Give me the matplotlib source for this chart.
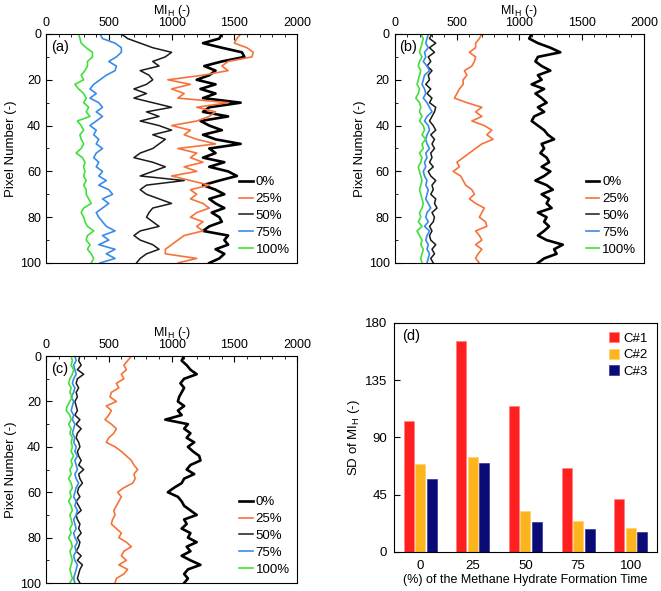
import numpy as np
import matplotlib
matplotlib.use("Agg")
from matplotlib import pyplot as plt

plt.rcParams['font.family'] = ['Liberation Sans', 'DejaVu Sans']
plt.rcParams['font.size'] = 9

# pixel number positions (sampled every 2 pixels)
pixels = list(range(0, 101, 2))
labels = ["0%", "25%", "50%", "75%", "100%"]

# panel (a)
a_0 = [1400, 1380, 1250, 1400, 1560, 1580, 1400, 1260, 1350, 1300, 1200, 1350, 1230, 1350, 1250, 1550, 1300,
       1250, 1450, 1230, 1300, 1400, 1250, 1350, 1550, 1300, 1350, 1250, 1420, 1300, 1450, 1520, 1380, 1250,
       1350, 1420, 1300, 1350, 1420, 1320, 1380, 1400, 1300, 1250, 1450, 1420, 1450, 1350, 1420, 1380, 1300]
a_25 = [1550, 1520, 1500, 1600, 1650, 1640, 1450, 1400, 1450, 1250, 970, 1150, 1000, 1100, 1050, 1450, 1200,
        1350, 1300, 1200, 1000, 1150, 1100, 1200, 1350, 1050, 1200, 1150, 1250, 1100, 1200, 1000, 1150, 1300,
        1150, 1200, 1150, 1250, 1300, 1200, 1150, 1250, 1200, 1250, 1100, 1050, 1000, 950, 950, 1200, 1050]
a_50 = [600, 650, 750, 850, 1000, 950, 850, 900, 750, 820, 850, 800, 700, 800, 700, 850, 1000, 800, 900, 750,
        900, 1000, 850, 950, 900, 850, 750, 700, 850, 950, 850, 750, 1100, 800, 750, 800, 900, 1000, 850, 820,
        800, 850, 900, 750, 700, 750, 850, 900, 800, 750, 720]
a_75 = [430, 450, 550, 600, 600, 560, 500, 560, 550, 480, 430, 380, 350, 400, 350, 420, 450, 400, 450, 400, 350,
        400, 380, 420, 400, 450, 400, 380, 420, 400, 450, 420, 480, 420, 500, 530, 450, 500, 450, 400, 420, 450,
        480, 550, 450, 500, 420, 550, 480, 550, 430]
a_100 = [260, 270, 280, 320, 370, 370, 330, 330, 310, 280, 300, 230, 260, 300, 320, 300, 340, 320, 350, 250, 280,
         300, 270, 280, 300, 280, 240, 290, 310, 300, 310, 300, 320, 300, 320, 320, 340, 360, 300, 280, 300, 310,
         330, 380, 330, 320, 350, 330, 360, 380, 360]

# panel (b)
b_0 = [1100, 1080, 1150, 1250, 1330, 1150, 1130, 1180, 1250, 1150, 1180, 1100, 1200, 1130, 1180, 1220, 1150,
       1200, 1120, 1100, 1150, 1200, 1230, 1280, 1180, 1200, 1170, 1220, 1240, 1180, 1250, 1200, 1130, 1220,
       1270, 1180, 1240, 1220, 1260, 1150, 1220, 1200, 1240, 1200, 1150, 1220, 1350, 1280, 1300, 1200, 1150]
b_25 = [700, 680, 650, 650, 600, 650, 640, 620, 560, 580, 550, 550, 520, 500, 480, 580, 700, 650, 700, 620, 720,
        780, 740, 790, 700, 650, 600, 550, 500, 520, 470, 530, 550, 570, 620, 640, 600, 650, 720, 700, 680, 730,
        740, 650, 680, 700, 650, 700, 670, 650, 680]
b_50 = [300, 280, 330, 280, 320, 270, 290, 260, 300, 270, 280, 250, 290, 260, 300, 280, 330, 320, 300, 280, 310,
        330, 290, 320, 300, 320, 290, 300, 280, 310, 270, 290, 330, 300, 310, 290, 330, 320, 340, 300, 320, 310,
        280, 300, 280, 290, 330, 300, 320, 290, 310]
b_75 = [270, 260, 250, 270, 240, 250, 230, 260, 280, 240, 230, 220, 240, 250, 230, 260, 280, 300, 260, 240, 270,
        280, 260, 250, 260, 280, 250, 260, 240, 250, 230, 240, 260, 250, 270, 260, 250, 270, 290, 260, 250, 270,
        240, 280, 260, 250, 270, 260, 280, 270, 260]
b_100 = [210, 230, 220, 210, 200, 220, 200, 190, 210, 200, 190, 180, 200, 190, 170, 200, 210, 200, 220, 200, 230,
         240, 220, 250, 220, 230, 200, 220, 210, 190, 200, 210, 220, 210, 200, 210, 220, 230, 220, 200, 210, 190,
         220, 180, 200, 220, 210, 230, 220, 210, 220]

# panel (c)
c_0 = [1100, 1080, 1120, 1150, 1200, 1100, 1070, 1100, 1080, 1060, 1050, 1100, 1050, 1080, 950, 1130, 1100,
       1150, 1120, 1180, 1130, 1170, 1220, 1230, 1150, 1120, 1180, 1100, 1080, 1020, 970, 1050, 1080, 1100,
       1150, 1200, 1100, 1120, 1080, 1150, 1130, 1200, 1120, 1150, 1080, 1150, 1230, 1130, 1100, 1130, 1100]
c_25 = [680, 650, 620, 640, 600, 620, 560, 580, 520, 510, 560, 480, 520, 500, 470, 520, 560, 540, 500, 480, 550,
        600, 640, 680, 700, 730, 700, 710, 690, 620, 570, 600, 580, 560, 540, 550, 530, 520, 560, 600, 580, 640,
        680, 620, 600, 640, 580, 650, 620, 560, 550]
c_50 = [270, 260, 280, 250, 300, 250, 240, 260, 240, 250, 230, 240, 250, 230, 270, 240, 280, 250, 240, 260, 270,
        250, 260, 280, 260, 300, 260, 270, 290, 260, 250, 270, 240, 260, 280, 240, 250, 270, 260, 280, 250, 270,
        260, 240, 280, 250, 290, 270, 260, 250, 270]
c_75 = [230, 240, 220, 230, 240, 220, 210, 230, 220, 200, 220, 210, 200, 220, 210, 230, 220, 210, 230, 220, 240,
        230, 250, 230, 240, 250, 230, 240, 260, 240, 230, 220, 240, 230, 250, 240, 220, 230, 240, 220, 230, 250,
        230, 240, 220, 230, 250, 240, 230, 220, 230]
c_100 = [200, 210, 200, 220, 210, 190, 180, 200, 190, 210, 190, 170, 160, 190, 200, 180, 200, 190, 210, 200, 210,
         200, 220, 200, 210, 190, 200, 180, 200, 210, 190, 200, 180, 200, 210, 190, 200, 210, 190, 200, 180, 200,
         210, 190, 200, 210, 200, 190, 200, 210, 190]

# panel (d)
formation = ["0", "25", "50", "75", "100"]
sd_c1 = [102.7, 165.6, 114.7, 66.0, 41.4]
sd_c2 = [68.9, 74.4, 32.5, 24.4, 19.1]
sd_c3 = [57.1, 70.2, 23.3, 18.3, 16.0]

line_colors = ["#000000", "#F7723A", "#1a1a1a", "#3A8BE8", "#3FE03A"]
line_widths = [1.9, 1.2, 1.1, 1.2, 1.2]


def profile(ax, series, tag):
	for s, lab, c, lw in zip(series, labels, line_colors, line_widths):
		ax.plot(s, pixels, color=c, lw=lw, label=lab)
	ax.set_xlim(0, 2000)
	ax.set_ylim(100, 0)
	ax.set_xticks([0, 500, 1000, 1500, 2000])
	ax.set_xticks(np.arange(0, 2001, 100), minor=True)
	ax.set_yticks([0, 20, 40, 60, 80, 100])
	ax.set_yticks(np.arange(0, 101, 10), minor=True)
	ax.xaxis.tick_top()
	ax.xaxis.set_label_position("top")
	ax.tick_params(which="both", direction="in", top=True, bottom=False, labelsize=9, pad=3.5)
	ax.tick_params(which="major", length=4)
	ax.tick_params(which="minor", length=2.5)
	ax.set_xlabel("MI$_\\mathregular{H}$ (-)", fontsize=9, labelpad=2.5)
	ax.set_ylabel("Pixel Number (-)", fontsize=9.5, labelpad=2)
	ax.text(0.02, 0.975, tag, transform=ax.transAxes, ha="left", va="top", fontsize=10.5)
	ax.legend(loc="lower right", frameon=False, handlelength=1.0, handletextpad=0.25,
	          labelspacing=0.35, borderaxespad=0.15, fontsize=9.5)


fig = plt.figure(figsize=(6.61, 5.91), dpi=100)
ax_a = fig.add_axes([0.0696, 0.555, 0.380, 0.3875])
ax_b = fig.add_axes([0.597, 0.555, 0.377, 0.3875])
ax_c = fig.add_axes([0.0696, 0.0135, 0.380, 0.384])
ax_d = fig.add_axes([0.596, 0.066, 0.398, 0.3875])

profile(ax_a, [a_0, a_25, a_50, a_75, a_100], "(a)")
profile(ax_b, [b_0, b_25, b_50, b_75, b_100], "(b)")
profile(ax_c, [c_0, c_25, c_50, c_75, c_100], "(c)")

x = np.arange(len(formation))
w = 0.19
ax_d.bar(x - 0.22, sd_c1, w, color="#FF1F1F", edgecolor="#FF8080", lw=0.5, label="C#1")
ax_d.bar(x, sd_c2, w, color="#FDB51E", edgecolor="#FFD070", lw=0.5, label="C#2")
ax_d.bar(x + 0.22, sd_c3, w, color="#0B0B75", edgecolor="#3030A0", lw=0.5, label="C#3")
ax_d.set_xlim(-0.5, 4.5)
ax_d.set_ylim(0, 180)
ax_d.set_yticks([0, 45, 90, 135, 180])
ax_d.set_xticks(x)
ax_d.set_xticklabels(formation)
ax_d.tick_params(axis="x", length=0, labelsize=9.5, pad=6)
ax_d.tick_params(axis="y", direction="in", length=4, labelsize=9.5, pad=5)
ax_d.set_ylabel("SD of MI$_\\mathregular{H}$ (-)", fontsize=9.5, labelpad=2)
ax_d.set_xlabel("(%) of the Methane Hydrate Formation Time", fontsize=9, labelpad=1)
ax_d.text(0.03, 0.975, "(d)", transform=ax_d.transAxes, ha="left", va="top", fontsize=10.5)
ax_d.legend(loc="upper right", frameon=False, handlelength=0.8, handleheight=0.8,
            handletextpad=0.3, labelspacing=0.3, borderaxespad=0.3, fontsize=9.5)

fig.savefig("out.png", dpi=100)
